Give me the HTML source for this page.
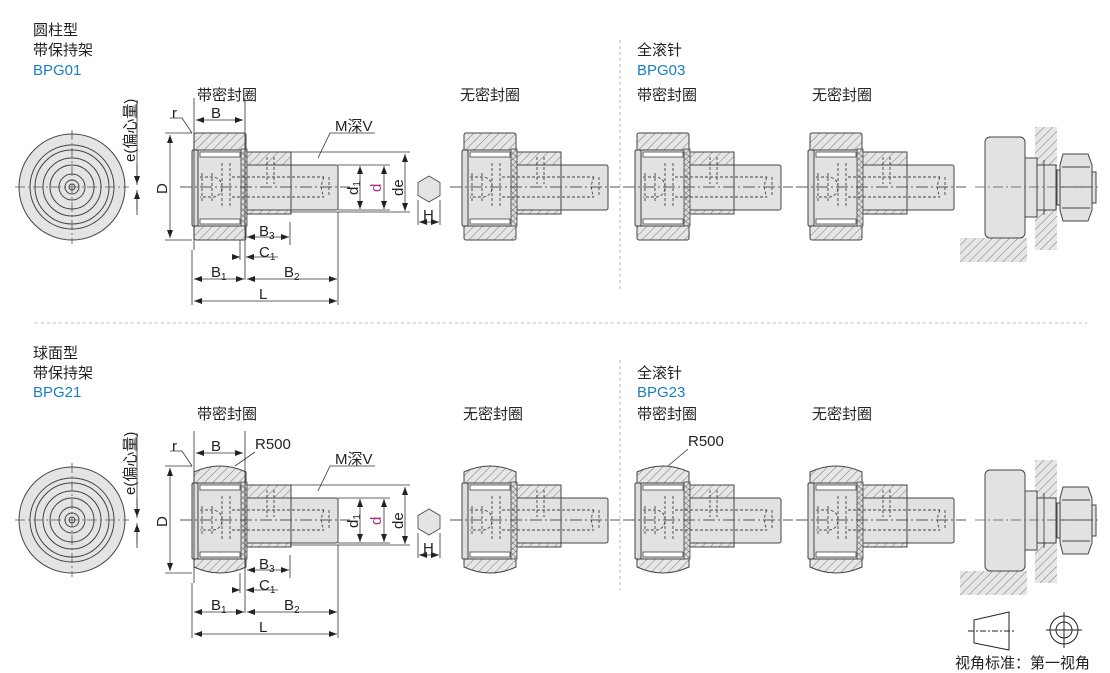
<!DOCTYPE html>
<html><head><meta charset="utf-8"><style>
body{margin:0;background:#fff}
svg{display:block}
text{font-family:"Liberation Sans","Noto Sans CJK SC",sans-serif;font-size:15px;fill:#222}
.b{fill:#1a7fc1}
.s{font-size:15px}
</style></head><body>
<svg width="1110" height="673" viewBox="0 0 1110 673" xmlns="http://www.w3.org/2000/svg">
<defs>
<pattern id="h" width="6" height="6" patternUnits="userSpaceOnUse" patternTransform="rotate(45)">
<rect width="6" height="6" fill="#e6e6e6"/><line x1="0" y1="0" x2="0" y2="6" stroke="#555" stroke-width="0.8"/></pattern>
<pattern id="x" width="4" height="4" patternUnits="userSpaceOnUse" patternTransform="rotate(45)">
<rect width="4" height="4" fill="#ddd"/><path d="M0 0V4M0 0H4" stroke="#444" stroke-width="0.7"/></pattern>
<marker id="a" markerWidth="8" markerHeight="6" refX="8" refY="3" orient="auto-start-reverse" markerUnits="userSpaceOnUse"><path d="M0 0L8 3L0 6z" fill="#222"/></marker>
<g id="core">
 <rect x="53" y="-35" width="46" height="62" fill="url(#h)" stroke="#444" stroke-width="1"/>
 <rect x="48" y="-22" width="98" height="45" fill="#e2e2e2" stroke="#444" stroke-width="1" rx="2"/>
 <line x1="99" y1="-22" x2="99" y2="23" stroke="#444"/>
 <rect x="5" y="-37" width="45" height="76" fill="#e2e2e2" stroke="#444"/>
 <rect x="8" y="-35" width="40" height="5" fill="#fff" stroke="#444" stroke-width="0.8"/>
 <rect x="8" y="32" width="40" height="5" fill="#fff" stroke="#444" stroke-width="0.8"/>
 <rect x="0" y="-37" width="6" height="76" fill="#ddd" stroke="#444" rx="1.5"/>
 <rect x="49" y="-38" width="6" height="77" fill="url(#x)" stroke="#444" stroke-width="0.8"/>
 <g stroke="#444" stroke-width="0.9" stroke-dasharray="3 2" fill="none">
  <path d="M8 -10H22Q30 -8 30 0Q30 8 22 10H8"/>
  <path d="M10 -14V14M20 -14V14"/>
  <path d="M40 -10H132M40 10H132"/>
  <path d="M30 -24V20M38 -24V20"/>
  <path d="M75 -30V-3M82 -30V-3"/>
  <path d="M132 -10Q127 0 132 10M137 -10V10"/>
 </g>
 <line x1="-12" y1="0" x2="158" y2="0" stroke="#555" stroke-width="0.9" stroke-dasharray="12 3 2 3"/>
</g>
<g id="ringc"><rect x="2" y="-54" width="52" height="107" fill="url(#h)" stroke="#444" rx="2"/></g>
<g id="ringb"><path d="M2 -48Q28 -60 54 -48V47Q28 59 2 47Z" fill="url(#h)" stroke="#444"/></g>
<g id="circ" fill="none" stroke="#444" stroke-width="1">
 <circle r="53" fill="#e4e4e4"/><circle r="42"/><circle r="37"/><circle r="29"/><circle r="22"/><circle r="13"/><circle r="7"/><circle r="3"/>
 <path d="M-57 0H57M0 -57V57" stroke="#555" stroke-dasharray="10 3 2 3" stroke-width="0.8"/>
</g>
<g id="dims" stroke="#333" stroke-width="0.8" fill="none">
 <path d="M165 133H192M165 240H192" />
 <line x1="170" y1="135" x2="170" y2="238" marker-start="url(#a)" marker-end="url(#a)"/>
 <path d="M194 98V250M245 98V250M192 250V305M245 250V280M290 222V245M338 212V305M240 240V260"/>
 <line x1="196" y1="120" x2="243" y2="120" marker-start="url(#a)" marker-end="url(#a)"/>
 <line x1="247" y1="237" x2="289" y2="237" marker-start="url(#a)" marker-end="url(#a)"/>
 <line x1="232" y1="257" x2="240" y2="257" marker-end="url(#a)"/>
 <line x1="278" y1="257" x2="246" y2="257" marker-end="url(#a)"/>
 <line x1="194" y1="279" x2="244" y2="279" marker-start="url(#a)" marker-end="url(#a)"/>
 <line x1="247" y1="279" x2="337" y2="279" marker-start="url(#a)" marker-end="url(#a)"/>
 <line x1="194" y1="301" x2="337" y2="301" marker-start="url(#a)" marker-end="url(#a)"/>
 <path d="M290 152H410M290 212H410M338 165H390M338 210H390"/>
 <line x1="405" y1="154" x2="405" y2="211" marker-start="url(#a)" marker-end="url(#a)"/>
 <line x1="384" y1="166" x2="384" y2="209" marker-start="url(#a)" marker-end="url(#a)"/>
 <line x1="360" y1="166" x2="360" y2="209" marker-start="url(#a)" marker-end="url(#a)"/>
 <path d="M137 100V185M137 190V215"/>
 <line x1="137" y1="165" x2="137" y2="184" marker-end="url(#a)"/>
 <line x1="137" y1="210" x2="137" y2="191" marker-end="url(#a)"/>
 <path d="M170 118H182L192 133"/>
 <path d="M375 133H330L318 158"/>
 <path d="M418 200V225M440 200V225"/>
 <line x1="419" y1="222" x2="439" y2="222" marker-start="url(#a)" marker-end="url(#a)"/>
 <path d="M429 176L440 182.5V195.5L429 202L418 195.5V182.5Z" fill="#e4e4e4" stroke="#444"/>
</g>
<g id="dimt">
 <text x="172" y="118" font-size="16">r</text><text x="211" y="118" font-size="16">B</text>
 <text x="335" y="131">M深V</text>
 <text x="259" y="236" class="s">B<tspan font-size="10" dy="3">3</tspan></text>
 <text x="259" y="257" class="s">C<tspan font-size="10" dy="3">1</tspan></text>
 <text x="211" y="277" class="s">B<tspan font-size="10" dy="3">1</tspan></text>
 <text x="284" y="277" class="s">B<tspan font-size="10" dy="3">2</tspan></text>
 <text x="259" y="299" class="s">L</text>
 <text x="423" y="220" class="s">H</text>
 <text transform="translate(167,194) rotate(-90)" font-size="16">D</text>
 <text transform="translate(358,195) rotate(-90)">d<tspan font-size="10" dy="2">1</tspan></text>
 <text transform="translate(381,192) rotate(-90)" style="fill:#b0308a">d</text>
 <text transform="translate(403,196) rotate(-90)">de</text>
 <text transform="translate(135,162) rotate(-90)" font-size="15">e(偏心量)</text>
</g>
<g id="mount">
 <rect x="960" y="238" width="67" height="24" fill="url(#h)"/>
 <path d="M1035 127V250H1057V127Z" fill="url(#h)"/>
 <rect x="1036" y="165" width="20" height="45" fill="#e2e2e2" stroke="#444"/>
 <rect x="1025" y="158" width="12" height="59" fill="#e2e2e2" stroke="#444"/>
 <rect x="985" y="137" width="40" height="101" rx="5" fill="#e2e2e2" stroke="#444"/>
 <rect x="1057" y="170" width="6" height="35" fill="#e2e2e2" stroke="#444"/>
 <path d="M1063 154H1088L1092 165V210L1088 221H1063L1060 210V165Z" fill="#e2e2e2" stroke="#444"/>
 <path d="M1060 187H1092M1062 167H1090M1062 208H1090" stroke="#444" fill="none"/>
 <rect x="1092" y="172" width="4" height="31" fill="#e2e2e2" stroke="#444"/>
 <line x1="975" y1="187" x2="1100" y2="187" stroke="#555" stroke-dasharray="10 3 2 3" stroke-width="0.8"/>
 <line x1="1044" y1="160" x2="1044" y2="215" stroke="#333" stroke-width="0.8"/>
</g>
</defs>

<text x="33" y="35">圆柱型</text><text x="33" y="55">带保持架</text><text x="33" y="75" class="b">BPG01</text>
<text x="637" y="55">全滚针</text><text x="637" y="75" class="b">BPG03</text>
<text x="197" y="100">带密封圈</text><text x="460" y="100">无密封圈</text>
<text x="637" y="100">带密封圈</text><text x="812" y="100">无密封圈</text>
<use href="#circ" x="72" y="187"/>
<g transform="translate(192,187)"><use href="#ringc"/><use href="#core"/></g>
<g transform="translate(462,187)"><use href="#ringc"/><use href="#core"/></g>
<g transform="translate(635,187)"><use href="#ringc"/><use href="#core"/></g>
<g transform="translate(808,187)"><use href="#ringc"/><use href="#core"/></g>
<use href="#dims"/><use href="#dimt"/>
<use href="#mount"/>

<line x1="620" y1="40" x2="620" y2="292" stroke="#bbb" stroke-dasharray="3 3"/>
<line x1="35" y1="323" x2="1087" y2="323" stroke="#bbb" stroke-dasharray="3 3"/>
<line x1="620" y1="360" x2="620" y2="590" stroke="#bbb" stroke-dasharray="3 3"/>

<text x="33" y="358">球面型</text><text x="33" y="378">带保持架</text><text x="33" y="397" class="b">BPG21</text>
<text x="637" y="378">全滚针</text><text x="637" y="397" class="b">BPG23</text>
<text x="197" y="419">带密封圈</text><text x="463" y="419">无密封圈</text>
<text x="637" y="419">带密封圈</text><text x="812" y="419">无密封圈</text>
<use href="#circ" x="72" y="520"/>
<g transform="translate(192,520)"><use href="#ringb"/><use href="#core"/></g>
<g transform="translate(462,520)"><use href="#ringb"/><use href="#core"/></g>
<g transform="translate(635,520)"><use href="#ringb"/><use href="#core"/></g>
<g transform="translate(808,520)"><use href="#ringb"/><use href="#core"/></g>
<g transform="translate(0,333)"><use href="#dims"/><use href="#dimt"/><use href="#mount"/></g>
<text x="255" y="449">R500</text><text x="688" y="446">R500</text>
<path d="M255 452L235 466M688 449L668 466" stroke="#333" stroke-width="0.8"/>

<g stroke="#222" fill="none" stroke-width="1">
 <path d="M974 620L1009 612V650L974 643Z"/>
 <path d="M968 631H1015" stroke-dasharray="6 2 2 2"/>
 <circle cx="1064" cy="630" r="14"/><circle cx="1064" cy="630" r="8"/>
 <path d="M1046 630H1082M1064 612V648"/>
</g>
<text x="955" y="668">视角标准：第一视角</text>
</svg>
</body></html>
